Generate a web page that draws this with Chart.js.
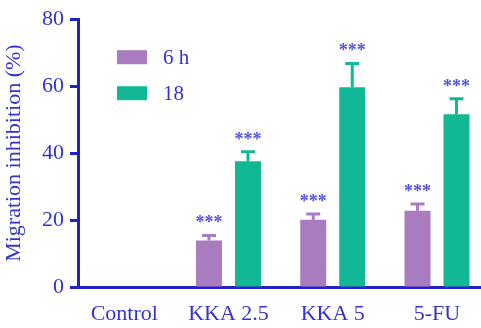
<!DOCTYPE html>
<html>
<head>
<meta charset="utf-8">
<script src="https://cdn.jsdelivr.net/npm/chart.js@4"></script>
<style>
  html, body { margin: 0; padding: 0; background: #ffffff; }
  #wrap { width: 481px; height: 328px; }
</style>
</head>
<body>
<div id="wrap"><canvas id="c" width="481" height="328"></canvas></div>
<script>
// Groups and measured inhibition (mean, SEM) at 6 h and 18 h
const categories = ['Control', 'KKA 2.5', 'KKA 5', '5-FU'];
const seriesLabels = ['6 h', '18'];
const mean6h = [0, 13.9, 20.1, 22.8];
const sem6h = [0, 1.5, 1.7, 2.0];
const mean18h = [0, 37.6, 59.7, 51.6];
const sem18h = [0, 2.8, 7.1, 4.6];
const sig6h = ['', '***', '***', '***'];
const sig18h = ['', '***', '***', '***'];
const yTicks = [0, 20, 40, 60, 80];

const BLUE_AXIS = '#2121c4';
const BLUE_TEXT = '#3434cc';
const STAR = '#5252de';
const PURPLE = '#a87cbf';
const GREEN = '#12b895';
const SERIF = '"Liberation Serif", "Times New Roman", serif';

const toPoints = arr => arr.map((v, i) => ({ x: i, y: v }));

// Upper whiskers plus significance marks above each bar
const errorBars = {
  id: 'errorBars',
  afterDatasetsDraw(chart) {
    const ctx = chart.ctx;
    const y = chart.scales.y;
    chart.data.datasets.forEach((ds, di) => {
      const meta = chart.getDatasetMeta(di);
      meta.data.forEach((bar, i) => {
        const v = ds.data[i].y;
        const e = ds.sem[i];
        if (!v) return;
        const top = y.getPixelForValue(v + e);
        const base = y.getPixelForValue(v);
        ctx.save();
        ctx.strokeStyle = ds.backgroundColor;
        ctx.lineWidth = 3;
        ctx.beginPath();
        ctx.moveTo(bar.x, base);
        ctx.lineTo(bar.x, top);
        ctx.moveTo(bar.x - 7, top);
        ctx.lineTo(bar.x + 7, top);
        ctx.stroke();
        const s = ds.sig[i];
        if (s) {
          ctx.fillStyle = STAR;
          ctx.font = 'bold 18px ' + SERIF;
          ctx.textAlign = 'center';
          ctx.textBaseline = 'alphabetic';
          ctx.fillText(s, bar.x, top - 7);
        }
        ctx.restore();
      });
    });
  }
};

// Legend drawn inside the plot area, upper left
const innerLegend = {
  id: 'innerLegend',
  afterDraw(chart) {
    const ctx = chart.ctx;
    const area = chart.chartArea;
    ctx.save();
    chart.data.datasets.forEach((ds, i) => {
      const bx = area.left + 39;
      const by = area.top + 31 + i * 36;
      ctx.fillStyle = ds.backgroundColor;
      ctx.fillRect(bx, by, 30, 14);
      ctx.fillStyle = BLUE_TEXT;
      ctx.font = '21px ' + SERIF;
      ctx.textAlign = 'left';
      ctx.textBaseline = 'middle';
      ctx.fillText(ds.label, bx + 46, by + 8);
    });
    ctx.restore();
  }
};

new Chart(document.getElementById('c'), {
  type: 'bar',
  data: {
    datasets: [
      { label: seriesLabels[0], data: toPoints(mean6h), sem: sem6h, sig: sig6h,
        backgroundColor: PURPLE, borderWidth: 0 },
      { label: seriesLabels[1], data: toPoints(mean18h), sem: sem18h, sig: sig18h,
        backgroundColor: GREEN, borderWidth: 0 }
    ]
  },
  options: {
    responsive: false,
    animation: false,
    categoryPercentage: 0.748,
    barPercentage: 0.667,
    layout: { padding: { top: 17, right: 0, bottom: 0, left: 0 } },
    plugins: { legend: { display: false }, tooltip: { enabled: false } },
    scales: {
      x: {
        type: 'linear',
        offset: false,
        min: -0.4436,
        max: 3.4222,
        afterBuildTicks: s => { s.ticks = categories.map((_, i) => ({ value: i })); },
        afterFit: s => { s.height = 41; },
        grid: { display: false, drawTicks: false, offset: false },
        border: { display: true, color: BLUE_AXIS, width: 3 },
        ticks: {
          padding: 14,
          color: BLUE_TEXT,
          font: { family: SERIF, size: 22 },
          callback: v => categories[v] ?? ''
        }
      },
      y: {
        min: 0,
        max: 80,
        afterBuildTicks: s => { s.ticks = yTicks.map(v => ({ value: v })); },
        afterFit: s => { s.width = 78; },
        grid: { display: true, drawOnChartArea: false, drawTicks: true,
                tickLength: 8, tickWidth: 3, color: BLUE_AXIS },
        border: { display: true, color: BLUE_AXIS, width: 3 },
        ticks: { padding: 6, color: BLUE_TEXT, font: { family: SERIF, size: 22 } },
        title: {
          display: true,
          text: 'Migration inhibition (%)',
          color: BLUE_TEXT,
          font: { family: SERIF, size: 22 },
          padding: { top: 1, bottom: 0 }
        }
      }
    }
  },
  plugins: [errorBars, innerLegend]
});
</script>
</body>
</html>
